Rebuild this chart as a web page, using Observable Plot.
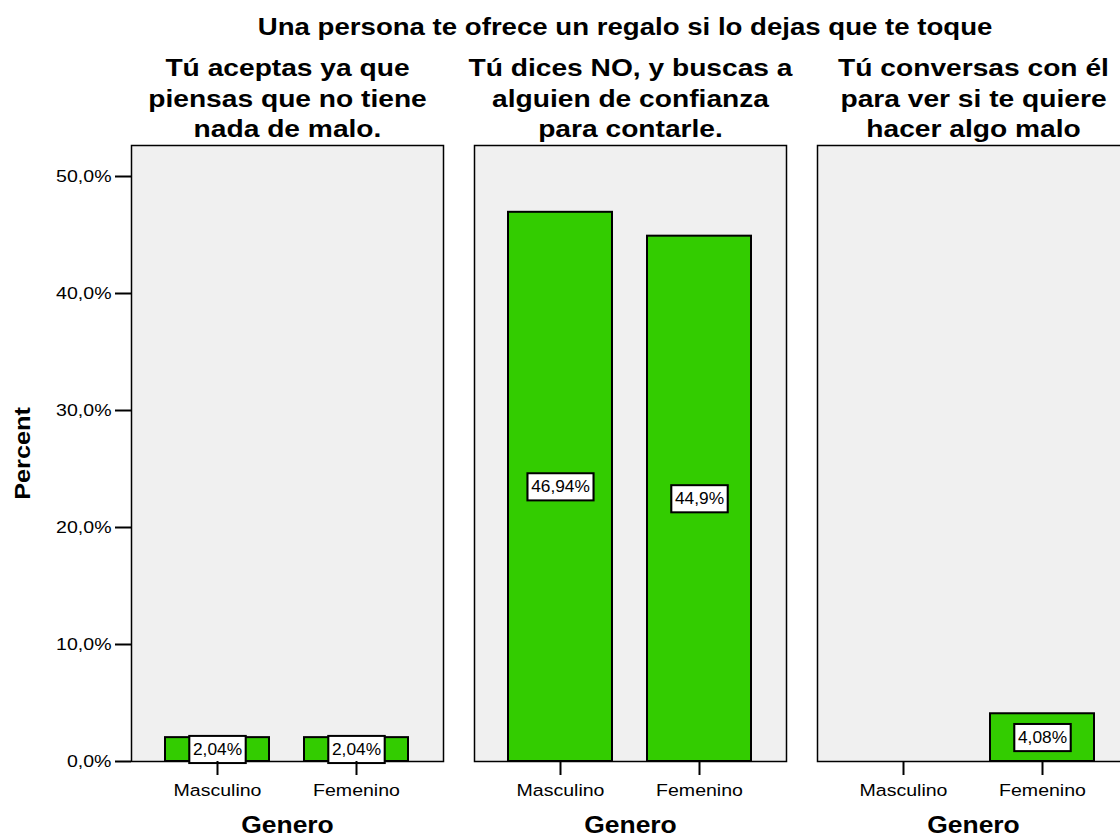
<!DOCTYPE html>
<html>
<head>
<meta charset="utf-8">
<script src="https://cdn.jsdelivr.net/npm/d3@7"></script>
<script src="https://cdn.jsdelivr.net/npm/@observablehq/plot@0.6"></script>
<style>
html, body { margin: 0; padding: 0; background: #fff; overflow: hidden; width: 1120px; height: 839px; }
#title { position: absolute; left: 0; top: 2px; width: 1250px; height: 51px; text-align: center;
  font: bold 23px "Liberation Sans", Arial, sans-serif; line-height: 51px; color: #000; white-space: nowrap; }
#title span { display: inline-block; transform: scaleX(1.2); line-height: 51px; }
#chart { position: absolute; left: 0; top: 51px; width: 1131px; height: 788px; }
#chart svg { max-width: none !important; }
</style>
</head>
<body>
<div id="title"><span>Una persona te ofrece un regalo si lo dejas que te toque</span></div>
<div id="chart"></div>
<script>
// ---- data ----
const respuestas = [
  "Tú aceptas ya que\npiensas que no tiene\nnada de malo.",
  "Tú dices NO, y buscas a\nalguien de confianza\npara contarle.",
  "Tú conversas con él\npara ver si te quiere\nhacer algo malo"
];
const generos = ["Masculino", "Femenino"];
const masculino = [2.04, 46.94, 0];
const femenino = [2.04, 44.9, 4.08];
const yTicks = [0, 10, 20, 30, 40, 50];
const ejeX = "Genero";
const ejeY = "Percent";

// table built from the arrays
const series = {Masculino: masculino, Femenino: femenino};
const data = respuestas.flatMap((r, i) => generos.map(g => ({respuesta: r, genero: g, value: series[g][i]})));

const fmtPct = v => String(v).replace(".", ",") + "%";
const fmtTick = v => v.toFixed(1).replace(".", ",") + "%";

const chart = Plot.plot({
  width: 1131,
  height: 788,
  marginLeft: 130,
  marginRight: 1,
  marginTop: 94,
  marginBottom: 78,
  style: {fontFamily: "'Liberation Sans', Arial, sans-serif", color: "#000", background: "transparent", maxWidth: "none"},
  fx: {domain: respuestas, paddingInner: 0.089, paddingOuter: 0, axis: null},
  x: {domain: generos, paddingInner: 0.25, paddingOuter: 0.24, axis: null},
  y: {domain: [0, 52.65], axis: null},
  marks: [
    Plot.frame({fill: "#f0f0f0", stroke: "#000", strokeWidth: 1.5}),
    Plot.barY(data, {fx: "respuesta", x: "genero", y: "value", filter: d => d.value > 0,
      fill: "#33cc00", stroke: "#000", strokeWidth: 2}),
    Plot.text(data, {fx: "respuesta", x: "genero", y: d => d.value / 2, filter: d => d.value > 0,
      text: d => fmtPct(d.value), fontSize: 16.5, fill: "#000"}),
    Plot.axisX({tickSize: 14, tickPadding: 8, fontSize: 17, label: null, stroke: "#000", strokeWidth: 2}),
    Plot.axisY({ticks: yTicks, tickFormat: fmtTick, tickSize: 16, tickPadding: 4, fontSize: 17,
      label: ejeY, labelAnchor: "center", labelArrow: "none", labelOffset: 117, stroke: "#000", strokeWidth: 2}),
    Plot.text(respuestas, {fx: d => d, text: d => d, frameAnchor: "top", lineAnchor: "middle", dy: -48.5,
      fontSize: 24.5, fontWeight: "bold", lineHeight: 1.245, fill: "#000"}),
    Plot.text(respuestas, {fx: d => d, text: () => ejeX, frameAnchor: "bottom", dy: 71,
      fontSize: 23, fontWeight: "bold", fill: "#000"})
  ]
});

chart.style.maxWidth = "none";
document.getElementById("chart").append(chart);

// style the y-axis label
chart.querySelectorAll('g[aria-label="y-axis label"]').forEach(g => {
  g.setAttribute("font-size", "22");
  g.setAttribute("font-weight", "bold");
  g.querySelectorAll("text").forEach(t => { t.style.fontSize = "22px"; t.style.fontWeight = "bold"; });
});

const isValueLabel = t => t.closest('g[aria-label="text"]') && /^\d+(,\d+)?%$/.test(t.textContent);

// widen glyphs like the original rendering
chart.querySelectorAll("text").forEach(t => {
  const tr = t.getAttribute("transform") || "";
  const s = isValueLabel(t) ? 1.05 : 1.15;
  t.setAttribute("transform", (tr + ` scale(${s},1)`).trim());
});

// white boxes behind value labels
const ns = "http://www.w3.org/2000/svg";
[...chart.querySelectorAll('g[aria-label="text"] text')]
  .filter(isValueLabel)
  .forEach(t => {
    const b = t.getBBox();
    const r = document.createElementNS(ns, "rect");
    r.setAttribute("x", b.x - 3.5);
    r.setAttribute("y", b.y - 4.3);
    r.setAttribute("width", b.width + 7);
    r.setAttribute("height", b.height + 8.6);
    r.setAttribute("fill", "#fff");
    r.setAttribute("stroke", "#000");
    r.setAttribute("stroke-width", "2");
    if (t.getAttribute("transform")) r.setAttribute("transform", t.getAttribute("transform"));
    t.parentNode.insertBefore(r, t);
  });
</script>
</body>
</html>
